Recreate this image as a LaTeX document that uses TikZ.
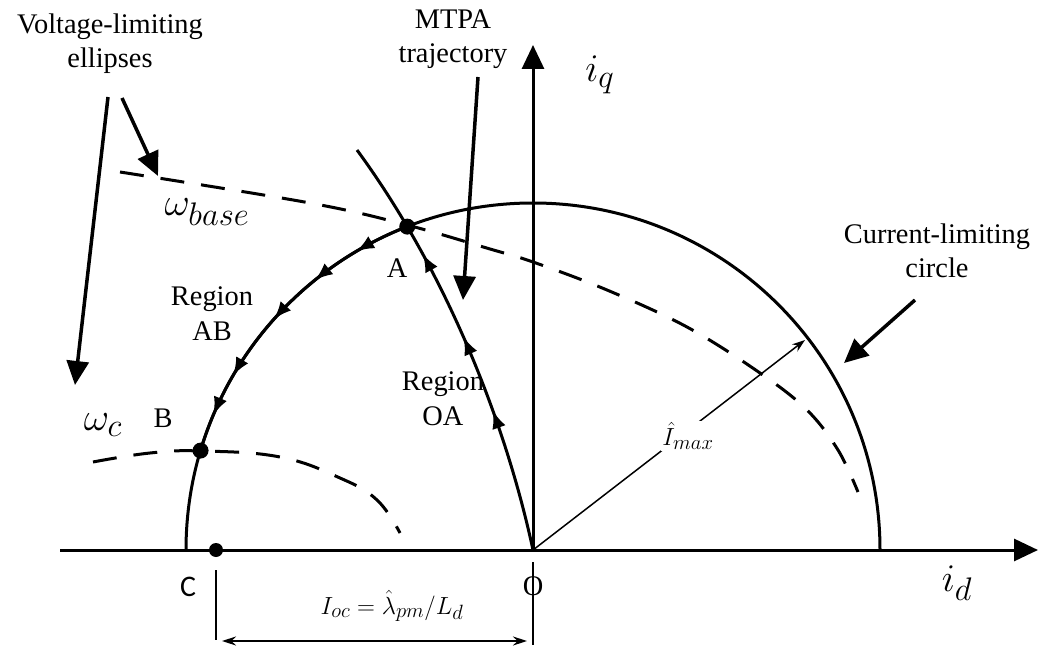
\documentclass[tikz,border=0pt]{standalone}
\usepackage{fontspec}
\setmainfont{Liberation Serif}
\newfontfamily\sansC{Carlito}
\usetikzlibrary{arrows.meta,decorations.markings,calc}
\newcommand{\bigmath}[1]{\scalebox{1.58}{$#1$}}
\begin{document}
\begin{tikzpicture}[x=1bp,y=-1bp,
  axis/.style={line width=3bp,-{Triangle[length=24bp,width=22bp]}},
  pointer/.style={line width=3.5bp,-{Triangle[length=24bp,width=22bp]}},
  curve/.style={line width=3bp},
  dashcurve/.style={line width=3bp,dash pattern=on 24bp off 17bp},
  blackdot/.style={circle,fill=black,inner sep=0pt,minimum size=16bp},
  lbl/.style={font=\fontsize{28.5}{35}\selectfont,align=center,anchor=base},
  letter/.style={font=\fontsize{28.5}{35}\selectfont,inner sep=0pt},
  mlbl/.style={font=\fontsize{24.88}{30}\selectfont,inner sep=1bp},
  biglbl/.style={font=\fontsize{24.88}{30}\selectfont,inner sep=1bp},
  thinline/.style={line width=1.5bp},
  smallarrow/.style={decoration={markings,#1},postaction={decorate}},
  dimarrows/.style={{Stealth[length=14bp,width=9bp]}-{Stealth[length=14bp,width=9bp]}}
]
\useasboundingbox (0,0) rectangle (1041,648);
\coordinate (O) at (533,550);
\coordinate (A) at ($(O)+(-111.25:347)$);
\coordinate (B) at ($(O)+(-163.35:347)$);
\coordinate (C) at (216,550);

% axes
\draw[axis] (60,550) -- (1038,550);
\draw[axis] (O) -- (533,45);

% current-limiting circle
\draw[curve] ($(O)+(-180:347)$) arc[start angle=-180,end angle=0,radius=347];

% voltage-limiting ellipses
\draw[dashcurve] plot[smooth,tension=0.6] coordinates {(120,172) (310,203) (407,225) (490,249) (533,262) (607,290) (687,327) (760,373) (807,410) (838,450) (858,492)};
\draw[dashcurve] plot[smooth,tension=0.7] coordinates {(93,462) (150,453) (202,451) (280,457) (340,478) (377,500) (400,533)};

% region AB along the circle
\draw[curve,smallarrow={mark=at position 0.18 with {\arrow{Latex[length=18bp,width=14bp]}},
  mark=at position 0.34 with {\arrow{Latex[length=18bp,width=14bp]}},
  mark=at position 0.52 with {\arrow{Latex[length=18bp,width=14bp]}},
  mark=at position 0.74 with {\arrow{Latex[length=18bp,width=14bp]}},
  mark=at position 0.88 with {\arrow{Latex[length=18bp,width=14bp]}}}]
  (A) arc[start angle=-111.25,end angle=-163.35,radius=347];

% MTPA trajectory
\draw[curve,smallarrow={mark=at position 0.33 with {\arrow{Latex[length=18bp,width=14bp]}},
  mark=at position 0.51 with {\arrow{Latex[length=18bp,width=14bp]}},
  mark=at position 0.72 with {\arrow{Latex[length=18bp,width=14bp]}}}]
  (O) .. controls (505,420) and (445,270) .. (357,150);

% points
\node[blackdot] (nA) at (A) {};
\node[blackdot] (nB) at (B) {};
\node[blackdot,minimum size=14bp] (nC) at (C) {};

% I_max radius
\draw[thinline,-{Stealth[length=13bp,width=9bp]}] (O) -- (805,340);
\node[mlbl,fill=white] (imax) at (688,436) {$\hat I_{max}$};

% dimension
\coordinate (tc1) at (216,570);
\coordinate (tc2) at (216,640);
\coordinate (to1) at (533,562);
\coordinate (to2) at (533,645);
\draw[thinline] (tc1) -- (tc2);
\draw[thinline] (to1) -- (to2);
\coordinate (d1) at (222,641);
\coordinate (d2) at (527,641);
\draw[thinline,dimarrows] (d1) -- (d2);
\node[mlbl] (ioc) at (392,606) {$I_{oc}=\hat\lambda_{pm}/L_d$};

% pointers
\node[lbl] (vle) at (110,68) {Voltage-limiting\\ellipses};
\node[lbl] (mtpa) at (453,63) {MTPA\\trajectory};
\node[lbl] (clc) at (937,278) {Current-limiting\\circle};
\coordinate (p1s) at (108,97);  \coordinate (p1e) at (75,385);
\coordinate (p2s) at (122,98);  \coordinate (p2e) at (158,176);
\coordinate (p3s) at (478,77);  \coordinate (p3e) at (463,300);
\coordinate (p4s) at (915,300); \coordinate (p4e) at (844,363);
\draw[pointer] (p1s) -- (p1e);
\draw[pointer] (p2s) -- (p2e);
\draw[pointer] (p3s) -- (p3e);
\draw[pointer] (p4s) -- (p4e);

% region labels
\node[lbl] (rab) at (212,340) {Region\\AB};
\node[lbl] (roa) at (443,425) {Region\\OA};
\node[letter] (lA) at (397,268) {A};
\node[letter] (lB) at (163,418) {B};
\node[letter] (lO) at (533,586) {O};
\node[inner sep=0pt,font=\sansC\fontsize{30}{36}\selectfont] (lC) at (188,587) {C};

% math labels
\node[biglbl] (wb) at (207,212) {\bigmath{\omega_{base}}};
\node[biglbl] (wc) at (103,425) {\bigmath{\omega_c}};
\node[biglbl] (iq) at (600,75) {\bigmath{i_q}};
\node[biglbl] (id) at (957,583) {\bigmath{i_d}};
\end{tikzpicture}
\end{document}
